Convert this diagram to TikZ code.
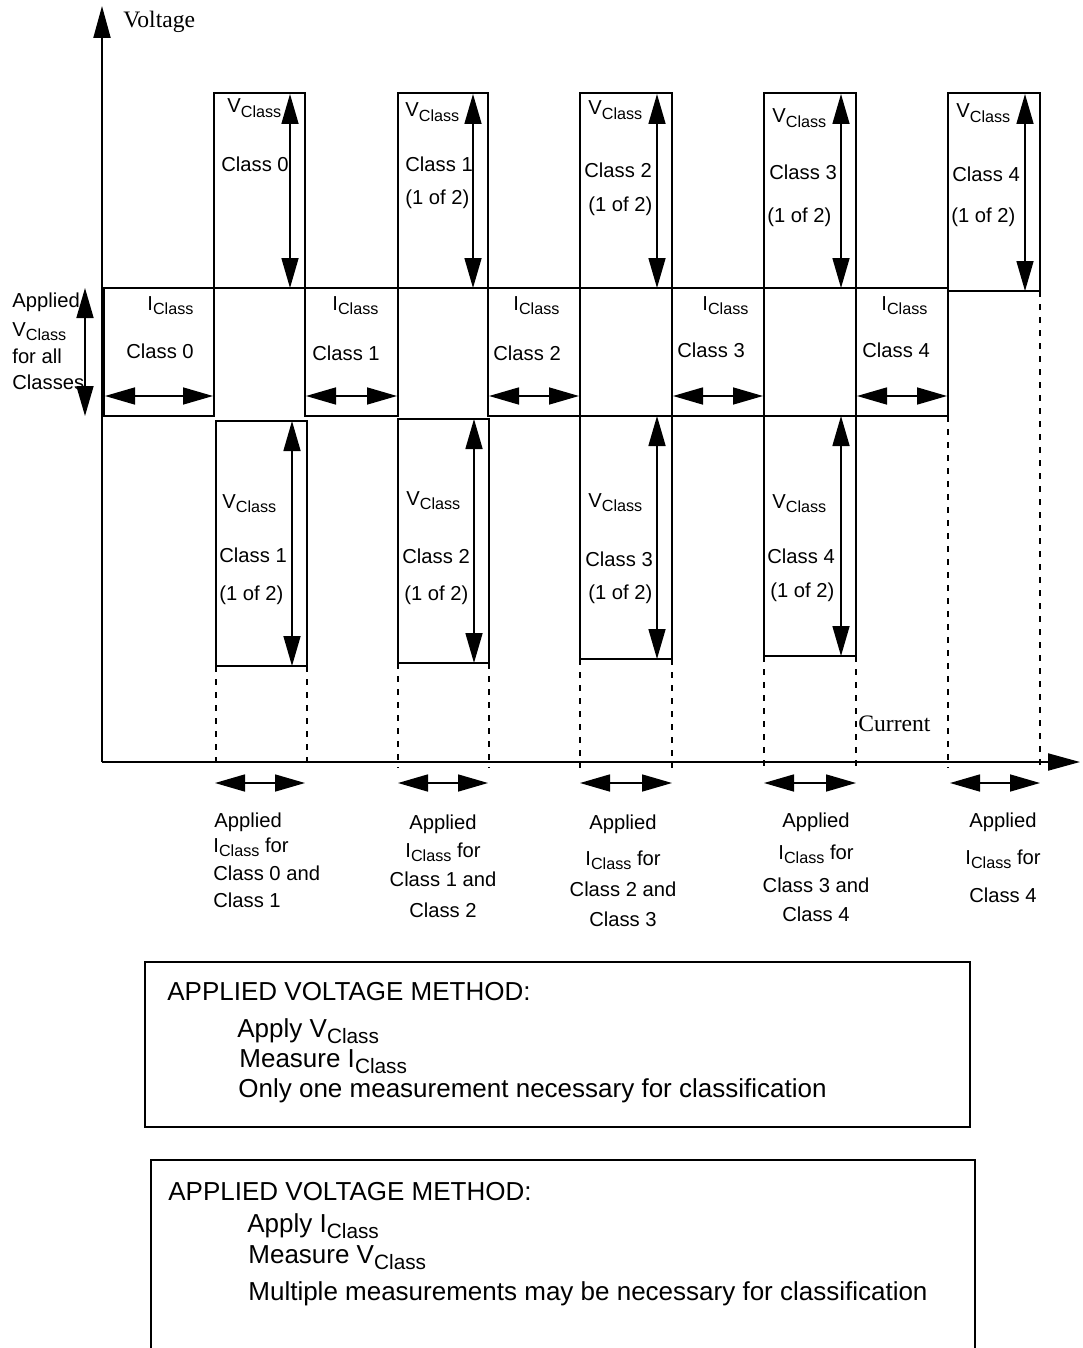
\documentclass[tikz,border=0pt]{standalone}
\usepackage{fontspec}
\usepackage{graphicx}
\setmainfont{Liberation Sans}
\newfontfamily\axisfont{Liberation Serif}
\usetikzlibrary{arrows.meta}

% lowered, smaller "Class" as in V_Class and I_Class
\newcommand{\lowtxt}[1]{\raisebox{-0.45ex}{\scalebox{0.8}{#1}}}
\newcommand{\vcl}{V\lowtxt{Class}}
\newcommand{\icl}{I\lowtxt{Class}}

\begin{document}
\begin{tikzpicture}[
  x=0.5pt, y=-0.5pt,
  box/.style={line width=1pt},
  axis/.style={-{Triangle[length=16pt, width=8.5pt]}, line width=1pt},
  span/.style={{Triangle[length=15pt, width=8.5pt]}-{Triangle[length=15pt, width=8.5pt]}, line width=0.8pt},
  guide/.style={line width=0.7pt, dash pattern=on 3pt off 3.5pt},
  lbl/.style={anchor=base west, inner sep=0pt, font=\fontsize{10.1}{12}\selectfont},
  mid/.style={anchor=base, inner sep=0pt, font=\fontsize{10.1}{12}\selectfont},
  note/.style={anchor=base west, inner sep=0pt, font=\fontsize{13}{15}\selectfont}
]
  \useasboundingbox (0,0) rectangle (1082,1348);

  % axes
  \coordinate (origin) at (102,762);
  \coordinate (vtop) at (102,6);
  \coordinate (iend) at (1080,762);
  \draw[axis] (origin) -- (vtop);
  \draw[axis] (origin) -- (iend);
  \node[anchor=base west, inner sep=0pt, font=\axisfont\fontsize{11.8}{13}\selectfont] (vaxis) at (123,28) {Voltage};
  \node[anchor=base west, inner sep=0pt, font=\axisfont\fontsize{11.8}{13}\selectfont] (iaxis) at (858,731) {Current};

  % upper boxes: V_Class per class
  \foreach \k/\l/\r/\b/\vx/\vy/\cx/\cy in {0/214/305/288/227/113/221/172, 1/398/488/288/405/117/405/172,
      2/580/672/288/588/115/584/178, 3/764/856/288/772/123/769/180, 4/948/1040/291/956/118/952/182} {
    \draw[box] (\l,93) rectangle (\r,\b);
    \coordinate (top\k-a) at ({\r-15},94);
    \coordinate (top\k-b) at ({\r-15},\b);
    \draw[span] (top\k-b) -- (top\k-a);
    \node[lbl] (top\k-v) at (\vx,\vy) {\vcl};
    \node[lbl] (top\k-c) at (\cx,\cy) {Class \k};
  }
  \foreach \k/\ox/\oy in {1/405/205, 2/588/212, 3/767/222, 4/951/223} {
    \node[lbl] (top\k-o) at (\ox,\oy) {(1 of 2)};
  }

  % middle boxes: I_Class per class
  \foreach \k/\l/\r/\ix/\cx/\cy in {0/104/214/147/126/358, 1/305/398/332/312/360, 2/488/580/513/493/360,
      3/672/764/702/677/357, 4/856/948/881/862/357} {
    \draw[box] (\l,288) rectangle (\r,416);
    \coordinate (mid\k-a) at ({\l+1},396);
    \coordinate (mid\k-b) at ({\r-1},396);
    \draw[span] (mid\k-a) -- (mid\k-b);
    \node[lbl] (mid\k-i) at (\ix,310) {\icl};
    \node[lbl] (mid\k-c) at (\cx,\cy) {Class \k};
  }

  % lower boxes: V_Class for the next class
  \foreach \k/\l/\r/\t/\b/\vx/\vy/\cx/\cy/\ox/\oy in {1/216/307/421/666/222/508/219/562/219/600,
      2/398/489/419/663/406/505/402/563/404/600, 3/580/672/416/659/588/507/585/566/588/599,
      4/764/856/416/656/772/508/767/563/770/597} {
    \draw[box] (\l,\t) rectangle (\r,\b);
    \coordinate (low\k-a) at ({\r-15},\t);
    \coordinate (low\k-b) at ({\r-15},\b);
    \draw[span] (low\k-b) -- (low\k-a);
    \node[lbl] (low\k-v) at (\vx,\vy) {\vcl};
    \node[lbl] (low\k-c) at (\cx,\cy) {Class \k};
    \node[lbl] (low\k-o) at (\ox,\oy) {(1 of 2)};
    \draw[guide] (\l,\b) -- (\l,768);
    \draw[guide] (\r,\b) -- (\r,768);
  }
  \draw[guide] (948,416) -- (948,768);
  \draw[guide] (1040,291) -- (1040,768);

  % applied voltage on the left
  \coordinate (av-a) at (85,288);
  \coordinate (av-b) at (85,416);
  \draw[span] (av-b) -- (av-a);
  \node[lbl] (av1) at (12,307) {Applied};
  \node[lbl] (av2) at (12,336) {\vcl};
  \node[lbl] (av3) at (12,363) {for all};
  \node[lbl] (av4) at (12,389) {Classes};

  % applied current ranges below the axis
  \foreach \k/\l/\r in {1/215/305, 2/398/488, 3/580/672, 4/764/856, 5/950/1040} {
    \coordinate (ai\k-a) at (\l,783);
    \coordinate (ai\k-b) at (\r,783);
    \draw[span] (ai\k-a) -- (ai\k-b);
  }
  \node[lbl] (ai1-1) at (214,827) {Applied};
  \node[lbl] (ai1-2) at (213,852) {\icl\ for};
  \node[lbl] (ai1-3) at (213,880) {Class 0 and};
  \node[lbl] (ai1-4) at (213,907) {Class 1};
  \foreach \i/\t/\y in {1/Applied/829, 2/\icl\ for/857, 3/Class 1 and/886, 4/Class 2/917} {
    \node[mid] (ai2-\i) at (443,\y) {\t};
  }
  \foreach \i/\t/\y in {1/Applied/829, 2/\icl\ for/865, 3/Class 2 and/896, 4/Class 3/926} {
    \node[mid] (ai3-\i) at (623,\y) {\t};
  }
  \foreach \i/\t/\y in {1/Applied/827, 2/\icl\ for/859, 3/Class 3 and/892, 4/Class 4/921} {
    \node[mid] (ai4-\i) at (816,\y) {\t};
  }
  \foreach \i/\t/\y in {1/Applied/827, 2/\icl\ for/864, 3/Class 4/902} {
    \node[mid] (ai5-\i) at (1003,\y) {\t};
  }

  % method boxes
  \draw[box] (145,962) rectangle (970,1127);
  \node[note] (m1-h) at (167,1000) {APPLIED VOLTAGE METHOD:};
  \node[note] (m1-a) at (237,1037) {Apply \vcl};
  \node[note] (m1-b) at (239,1067) {Measure \icl};
  \node[note] (m1-c) at (238,1097) {Only one measurement necessary for classification};

  \draw[box] (151,1352) -- (151,1160) -- (975,1160) -- (975,1352);
  \node[note] (m2-h) at (168,1200) {APPLIED VOLTAGE METHOD:};
  \node[note] (m2-a) at (247,1232) {Apply \icl};
  \node[note] (m2-b) at (248,1263) {Measure \vcl};
  \node[note] (m2-c) at (248,1300) {Multiple measurements may be necessary for classification};
\end{tikzpicture}
\end{document}
